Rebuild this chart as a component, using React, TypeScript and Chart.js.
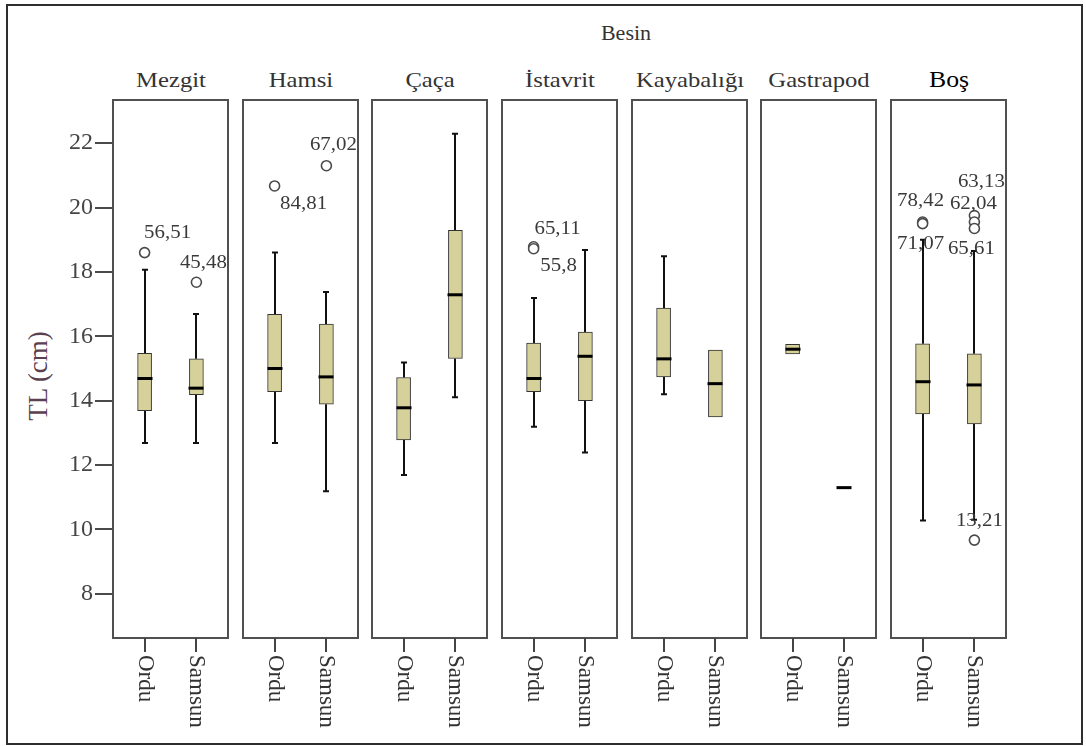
import React, { useEffect, useRef } from 'react';
import { Chart, registerables } from 'chart.js';

Chart.register(...registerables);

// ---------------- DATA ----------------
const axisTitle = 'Besin';
const yAxisTitle = 'TL (cm)';
const panelNames = ['Mezgit', 'Hamsi', 'Çaça', 'İstavrit', 'Kayabalığı', 'Gastrapod', 'Boş'];
const cityNames = ['Ordu', 'Samsun'];
const yTickValues = [8, 10, 12, 14, 16, 18, 20, 22];
const yMin = 6.63;
const yMax = 23.34;

// per panel: [Ordu, Samsun]
const whiskerLow = [[12.69, 12.69], [12.69, 11.19], [11.69, 14.11], [13.19, 12.39], [14.2, 13.5], [15.45, 11.3], [10.28, 10.3]];
const quartile1 = [[13.69, 14.19], [14.28, 13.89], [12.78, 15.31], [14.28, 14.0], [14.74, 13.5], [15.45, 11.3], [13.59, 13.28]];
const medians = [[14.69, 14.39], [15.0, 14.74], [13.78, 17.29], [14.69, 15.38], [15.3, 14.53], [15.6, 11.3], [14.59, 14.49]];
const quartile3 = [[15.47, 15.3], [16.68, 16.38], [14.72, 19.29], [15.79, 16.13], [16.88, 15.57], [15.75, 11.3], [15.77, 15.46]];
const whiskerHigh = [[18.07, 16.69], [18.6, 17.38], [15.19, 22.29], [17.19, 18.68], [18.49, 15.57], [15.75, 11.3], [19.0, 18.65]];

// outliers
const outlierPanel = [0, 0, 1, 1, 3, 3, 6, 6, 6, 6, 6, 6];
const outlierCity = [0, 1, 0, 1, 0, 0, 0, 0, 1, 1, 1, 1];
const outlierValue = [18.6, 17.68, 20.67, 21.3, 18.78, 18.72, 19.55, 19.5, 19.75, 19.55, 19.35, 9.67];
const outlierCase = ['56,51', '45,48', '84,81', '67,02', '65,11', '55,8', '78,42', '71,07', '63,13', '62,04', '65,61', '13,21'];

// ---------------- STYLE ----------------
const FONT = '"Liberation Serif", "Times New Roman", serif';
const labelOffset = [[23, -20], [7, -19], [29, 18], [7, -21], [24, -18], [25, 17], [-2, -21], [-2, 20], [7, -34], [-1, -18], [-3, 21], [5, -19]];
const BOX_FILL = '#d6d09b';
const PANEL_TOP = 100;
const PANEL_BOTTOM = 638;
const PANEL_LEFT0 = 113;
const PANEL_STEP = 129.67;
const PANEL_W = 115;
const Y_AXIS_W = 68;
const SIDE_PAD = 30;
const CANVAS_TOP = 90;
const CANVAS_H = 656;

function stretchedText(ctx: CanvasRenderingContext2D, text: string, x: number, y: number, sx: number) {
  ctx.save();
  ctx.translate(x, y);
  ctx.scale(sx, 1);
  ctx.fillText(text, 0, 0);
  ctx.restore();
}

const boxPlugin = {
  id: 'boxplot',
  beforeDatasetsDraw(chart: any, _args: any, opts: any) {
    const p = opts.panel;
    const { ctx } = chart;
    const xs = chart.scales.x;
    const ys = chart.scales.y;
    ctx.save();
    ctx.strokeStyle = '#111';
    ctx.lineWidth = 2;
    cityNames.forEach((_c, j) => {
      const x = Math.round(xs.getPixelForValue(j));
      const segs: [number, number][] = [];
      if (whiskerHigh[p][j] > quartile3[p][j]) segs.push([quartile3[p][j], whiskerHigh[p][j]]);
      if (whiskerLow[p][j] < quartile1[p][j]) segs.push([quartile1[p][j], whiskerLow[p][j]]);
      segs.forEach(([a, b]) => {
        const ya = ys.getPixelForValue(a);
        const yb = ys.getPixelForValue(b);
        ctx.beginPath();
        ctx.moveTo(x, ya);
        ctx.lineTo(x, yb);
        ctx.moveTo(x - 3, yb);
        ctx.lineTo(x + 3, yb);
        ctx.stroke();
      });
    });
    ctx.restore();
  },
  afterDatasetsDraw(chart: any, _args: any, opts: any) {
    const p = opts.panel;
    const { ctx } = chart;
    const xs = chart.scales.x;
    const ys = chart.scales.y;
    ctx.save();
    ctx.strokeStyle = '#000';
    ctx.lineWidth = 3;
    cityNames.forEach((_c, j) => {
      const x = Math.round(xs.getPixelForValue(j));
      const y = ys.getPixelForValue(medians[p][j]);
      ctx.beginPath();
      ctx.moveTo(x - 7.5, y);
      ctx.lineTo(x + 7.5, y);
      ctx.stroke();
    });
    // outlier labels
    ctx.fillStyle = '#3a3a3a';
    ctx.font = `19px ${FONT}`;
    ctx.textAlign = 'center';
    ctx.textBaseline = 'middle';
    outlierValue.forEach((v, k) => {
      if (outlierPanel[k] !== p) return;
      const x = xs.getPixelForValue(outlierCity[k]);
      const y = ys.getPixelForValue(v);
      stretchedText(ctx, outlierCase[k], x + labelOffset[k][0], y + labelOffset[k][1], 1.1);
    });
    ctx.restore();
  },
  afterDraw(chart: any) {
    const { ctx, chartArea } = chart;
    const xs = chart.scales.x;
    ctx.save();
    ctx.strokeStyle = '#505050';
    ctx.lineWidth = 2;
    ctx.strokeRect(chartArea.left, chartArea.top, chartArea.right - chartArea.left, chartArea.bottom - chartArea.top);
    ctx.strokeStyle = '#444';
    ctx.fillStyle = '#333';
    ctx.font = `23px ${FONT}`;
    ctx.textAlign = 'left';
    ctx.textBaseline = 'middle';
    cityNames.forEach((c, j) => {
      const x = Math.round(xs.getPixelForValue(j));
      ctx.beginPath();
      ctx.moveTo(x, chartArea.bottom);
      ctx.lineTo(x, chartArea.bottom + 14);
      ctx.stroke();
      ctx.save();
      ctx.translate(x, chartArea.bottom + 17);
      ctx.rotate(Math.PI / 2);
      ctx.fillText(c, 0, 0);
      ctx.restore();
    });
    ctx.restore();
  },
};

function Panel({ index }: { index: number }) {
  const ref = useRef<HTMLCanvasElement>(null);
  const isFirst = index === 0;
  useEffect(() => {
    if (!ref.current) return;
    const chart = new Chart(ref.current, {
      type: 'bar',
      data: {
        datasets: [
          {
            type: 'bar',
            data: cityNames.map((_c, j) => ({ x: j, y: [quartile1[index][j], quartile3[index][j]] })) as any,
            backgroundColor: BOX_FILL,
            borderColor: '#333',
            borderWidth: 1,
            borderSkipped: false,
            barThickness: 14,
          } as any,
          {
            type: 'scatter',
            data: outlierValue
              .map((v, k) => ({ k, v }))
              .filter((o) => outlierPanel[o.k] === index)
              .map((o) => ({ x: outlierCity[o.k], y: o.v })),
            pointRadius: 5,
            pointBorderWidth: 1.6,
            pointBorderColor: '#4a4a4a',
            pointBackgroundColor: '#fff',
            showLine: false,
          } as any,
        ],
      },
      options: {
        animation: false,
        responsive: true,
        maintainAspectRatio: false,
        layout: {
          padding: {
            left: isFirst ? 0 : SIDE_PAD,
            right: SIDE_PAD,
            top: PANEL_TOP - CANVAS_TOP,
            bottom: CANVAS_TOP + CANVAS_H - PANEL_BOTTOM,
          },
        },
        plugins: {
          legend: { display: false },
          tooltip: { enabled: false },
          boxplot: { panel: index },
        } as any,
        scales: {
          x: { type: 'linear', min: -0.61, max: 1.61, offset: false, grace: 0, display: false },
          y: {
            type: 'linear',
            min: yMin,
            max: yMax,
            display: isFirst,
            afterBuildTicks: (s: any) => {
              s.ticks = yTickValues.map((v) => ({ value: v }));
            },
            afterFit: (s: any) => {
              s.width = isFirst ? Y_AXIS_W : 0;
              s.paddingTop = 0;
              s.paddingBottom = 0;
            },
            grid: { drawOnChartArea: false, drawTicks: true, tickLength: 18, color: '#4a4a4a', lineWidth: 2 },
            border: { display: false },
            ticks: { font: { family: FONT, size: 24 }, color: '#454545', padding: 2 },
          },
        } as any,
      },
      plugins: [boxPlugin as any],
    });
    return () => chart.destroy();
  }, [index]);

  const panelLeft = Math.round(PANEL_LEFT0 + index * PANEL_STEP);
  const left = isFirst ? panelLeft - Y_AXIS_W : panelLeft - SIDE_PAD;
  const width = isFirst ? Y_AXIS_W + PANEL_W + SIDE_PAD : PANEL_W + 2 * SIDE_PAD;
  return (
    <div style={{ position: 'absolute', left, top: CANVAS_TOP, width, height: CANVAS_H }}>
      <canvas ref={ref} />
    </div>
  );
}

export default function App() {
  return (
    <div style={{ position: 'absolute', left: 0, top: 0, width: 1086, height: 746, background: '#fff', overflow: 'hidden', fontFamily: FONT }}>
      <div
        style={{
          position: 'absolute',
          left: 6,
          top: 4,
          width: 1077,
          height: 741,
          border: '2px solid #2e2e2e',
          boxSizing: 'border-box',
        }}
      />
      <div
        style={{
          position: 'absolute',
          left: 626,
          top: 33,
          transform: 'translate(-50%, -50%) scaleX(1.1)',
          fontSize: 20,
          color: '#333',
          whiteSpace: 'nowrap',
        }}
      >
        {axisTitle}
      </div>
      {panelNames.map((name, i) => (
        <div
          key={name}
          style={{
            position: 'absolute',
            left: Math.round(PANEL_LEFT0 + i * PANEL_STEP) + PANEL_W / 2,
            top: 80,
            transform: 'translate(-50%, -50%) scaleX(1.12)',
            fontSize: i === panelNames.length - 1 ? 23 : 22,
            color: i === panelNames.length - 1 ? '#000' : '#333',
            whiteSpace: 'nowrap',
          }}
        >
          {name}
        </div>
      ))}
      <div
        style={{
          position: 'absolute',
          left: 38,
          top: 376,
          transform: 'translate(-50%, -50%) rotate(-90deg)',
          fontSize: 27,
          color: '#5b4150',
          whiteSpace: 'nowrap',
        }}
      >
        {yAxisTitle}
      </div>
      {panelNames.map((name, i) => (
        <Panel key={name} index={i} />
      ))}
    </div>
  );
}
